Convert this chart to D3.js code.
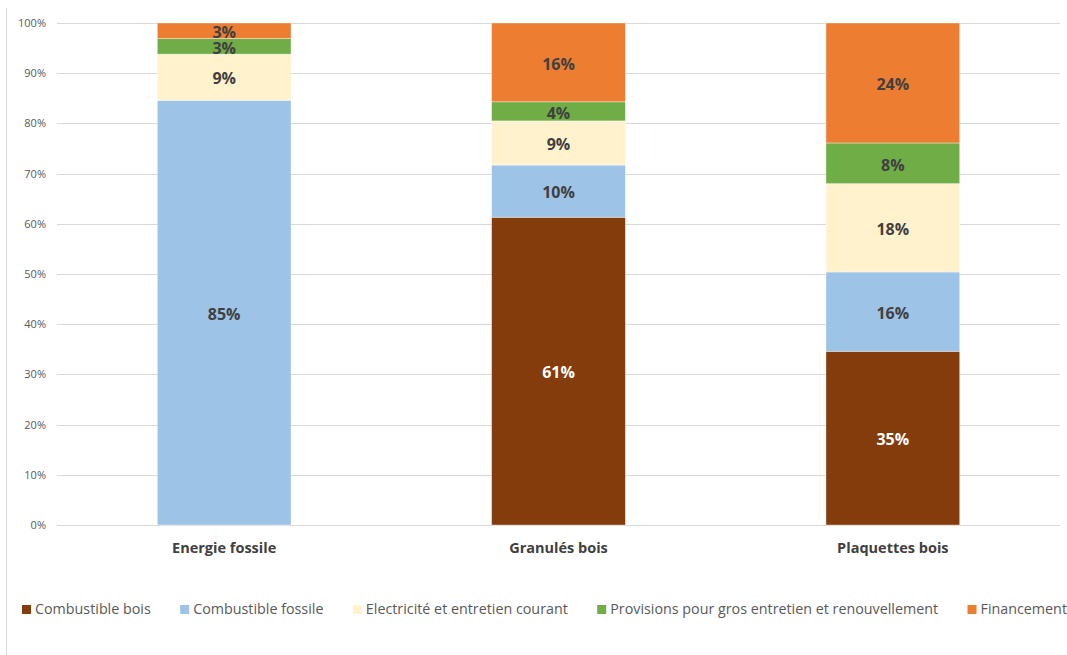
<!DOCTYPE html>
<html><head><meta charset="utf-8">
<script src="https://cdn.jsdelivr.net/npm/d3@7/dist/d3.min.js"></script>
<style>body{margin:0;background:#fff;} svg{display:block;font-family:"Open Sans","Noto Sans",sans-serif;}</style>
</head><body><svg id="c" width="1067" height="655"></svg>
<script>
const categories = ["Energie fossile", "Granulés bois", "Plaquettes bois"];
const seriesNames = ["Combustible bois", "Combustible fossile", "Electricité et entretien courant", "Provisions pour gros entretien et renouvellement", "Financement"];
const combustibleBois = [0, 61.3, 34.6];
const combustibleFossile = [84.6, 10.4, 15.8];
const electricite = [9.2, 8.8, 17.6];
const provisions = [3.1, 3.8, 8.1];
const financement = [3.1, 15.7, 23.9];
const yTicks = [0, 10, 20, 30, 40, 50, 60, 70, 80, 90, 100];
const colors = ["#843C0C", "#9DC3E6", "#FFF2CC", "#70AD47", "#ED7D31"];
const labelColors = ["#ffffff", "#404040", "#404040", "#404040", "#404040"];

const seriesValues = [combustibleBois, combustibleFossile, electricite, provisions, financement];
const rows = categories.map((c, i) => {
  const r = {cat: c};
  seriesNames.forEach((s, j) => r[s] = seriesValues[j][i]);
  return r;
});

const svg = d3.select("#c");
const pLeft = 57, pRight = 1060, pTop = 23, pBottom = 525;

svg.append("line").attr("x1", 6.5).attr("x2", 6.5).attr("y1", 8).attr("y2", 655)
  .attr("stroke", "#d9d9d9").attr("stroke-width", 1);

const x = d3.scaleBand().domain(categories).range([pLeft, pRight]).paddingInner(0.6).paddingOuter(0.3);
const y = d3.scaleLinear().domain([0, 100]).range([pBottom, pTop]);

svg.append("g").selectAll("line").data(yTicks).join("line")
  .attr("x1", pLeft).attr("x2", pRight)
  .attr("y1", d => Math.round(y(d)) + 0.5).attr("y2", d => Math.round(y(d)) + 0.5)
  .attr("stroke", "#d9d9d9").attr("stroke-width", 1);

const yAxis = d3.axisLeft(y).tickValues(yTicks).tickFormat(d => d + "%").tickSize(0).tickPadding(0);
const ya = svg.append("g").attr("transform", `translate(46,0)`).call(yAxis);
ya.select(".domain").remove();
ya.selectAll("text").attr("fill", "#595959").style("font-size", "11px").style("font-family", "'Open Sans',sans-serif");

const stack = d3.stack().keys(seriesNames)(rows);

const g = svg.append("g");
stack.forEach((layer, j) => {
  g.append("g").selectAll("rect").data(layer).join("rect")
    .attr("x", d => x(d.data.cat))
    .attr("width", x.bandwidth())
    .attr("y", d => y(d[1]))
    .attr("height", d => y(d[0]) - y(d[1]))
    .attr("fill", colors[j])
    .attr("stroke", "#ffffff").attr("stroke-opacity", 0.5).attr("stroke-width", 0.75);
});

stack.forEach((layer, j) => {
  g.append("g").selectAll("text").data(layer.filter(d => d[1] - d[0] > 0.5)).join("text")
    .attr("x", d => x(d.data.cat) + x.bandwidth() / 2)
    .attr("y", d => (y(d[0]) + y(d[1])) / 2 + 1.5)
    .attr("dy", "0.36em")
    .attr("text-anchor", "middle")
    .attr("fill", labelColors[j])
    .style("font-size", "16px").style("font-weight", "bold")
    .text(d => Math.round(d[1] - d[0]) + "%");
});

const xAxis = d3.axisBottom(x).tickSize(0).tickPadding(0);
const xa = svg.append("g").attr("transform", `translate(0,${pBottom + 18})`).call(xAxis);
xa.select(".domain").remove();
xa.selectAll("text").attr("fill", "#404040").style("font-size", "14.5px").style("font-weight", "bold")
  .style("font-family", "'Open Sans',sans-serif");

const leg = svg.append("g");
const items = leg.selectAll("g").data(seriesNames).join("g");
items.append("rect").attr("width", 9).attr("height", 9).attr("y", -9).attr("fill", (d, i) => colors[i]);
items.append("text").attr("x", 13).attr("y", 0).attr("fill", "#595959").style("font-size", "14.3px").text(d => d);
const widths = [];
items.each(function () { widths.push(13 + d3.select(this).select("text").node().getComputedTextLength()); });
const startX = 22, endX = 1067;
const gap = (endX - startX - d3.sum(widths)) / (widths.length - 1);
let cx = startX;
items.attr("transform", (d, i) => { const t = `translate(${cx},614)`; cx += widths[i] + gap; return t; });
</script></body></html>
